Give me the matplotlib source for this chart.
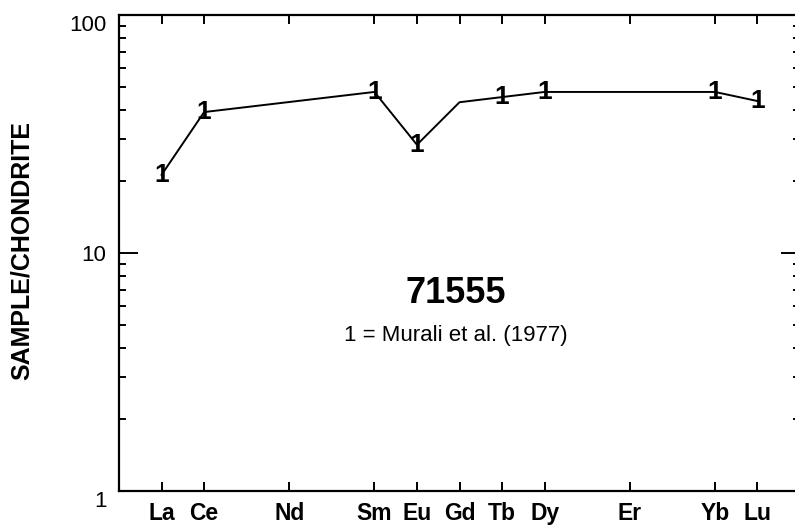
import matplotlib
matplotlib.use('Agg')
import matplotlib.pyplot as plt
from matplotlib.ticker import LogLocator, FixedLocator, NullFormatter

plt.rcParams['font.family'] = ['Liberation Sans', 'DejaVu Sans']

# rare earth elements in order (x positions are indexes into this list)
ree = ['La', 'Ce', 'Pr', 'Nd', 'Pm', 'Sm', 'Eu', 'Gd', 'Tb', 'Dy',
       'Ho', 'Er', 'Tm', 'Yb', 'Lu']
tick_elements = ['La', 'Ce', 'Nd', 'Sm', 'Eu', 'Gd', 'Tb', 'Dy', 'Er', 'Yb', 'Lu']

# sample 71555, chondrite normalised
data_elements = ['La', 'Ce', 'Sm', 'Eu', 'Gd', 'Tb', 'Dy', 'Yb', 'Lu']
data_values = [21.3, 39.1, 47.5, 28.5, 43.0, 45.2, 47.5, 47.5, 43.5]
measured = [True, True, True, True, False, True, True, True, True]  # Gd interpolated

W, H = 795, 525
fig = plt.figure(figsize=(W / 100, H / 100), dpi=100)
# right spine sits just past the image edge, as in the scan
ax = fig.add_axes([119 / W, 1 - 491 / H, 681 / W, 476 / H])

xs = [ree.index(e) for e in data_elements]
ax.plot(xs, data_values, color='black', lw=1.4, zorder=3)
for x, v, m in zip(xs, data_values, measured):
    if m:
        ax.text(x, v, '1', ha='center', va='center', fontsize=19,
                fontweight='heavy', zorder=4)

ax.set_yscale('log')
ax.set_ylim(1, 100)
ax.set_xlim(-1, 15)

ax.yaxis.set_major_locator(FixedLocator([1, 10, 100]))
ax.set_yticklabels(['1', '10', '100'])
ax.yaxis.set_minor_locator(LogLocator(base=10, subs=range(2, 10)))
ax.yaxis.set_minor_formatter(NullFormatter())

ax.set_xticks([ree.index(e) for e in tick_elements])
ax.set_xticklabels(tick_elements, fontweight='bold')

for s in ax.spines.values():
    s.set_linewidth(1.6)

ax.tick_params(axis='y', which='major', direction='in', length=14,
               width=1.4, right=True, labelsize=16, pad=9)
ax.tick_params(axis='y', which='minor', direction='in', length=5,
               width=1.4, right=True)
ax.tick_params(axis='x', which='major', direction='in', length=6.5,
               width=1.4, top=True, labelsize=16.5, pad=8)

# scan has "1" and "100" sitting a little below their ticks
ylabels = ax.get_yticklabels()
ylabels[0].set_va('top')
ylabels[2].set_va('top')

ax.set_ylabel('SAMPLE/CHONDRITE', fontsize=18, fontweight='bold')
ax.yaxis.set_label_coords((34 - 119) / 681, 0.505)

ax.text(0.495, 0.414, '71555', transform=ax.transAxes, ha='center',
        va='center', fontsize=26, fontweight='bold')
ax.text(0.495, 0.326, '1 = Murali et al. (1977)', transform=ax.transAxes,
        ha='center', va='center', fontsize=16)

fig.savefig('out.png', dpi=100, facecolor='white')
